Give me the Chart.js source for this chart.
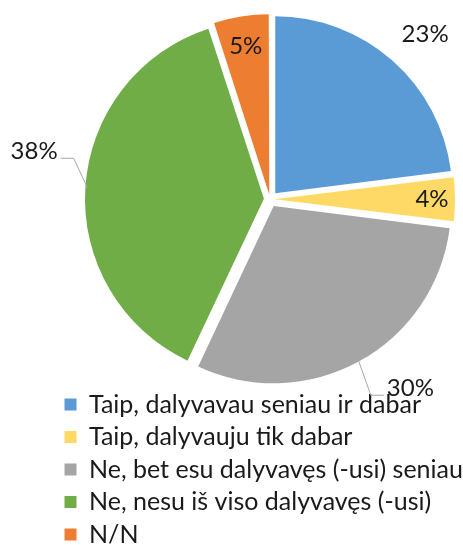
<!DOCTYPE html>
<html lang="lt">
<head>
<meta charset="utf-8">
<title>Dalyvavimas</title>
<script src="https://cdn.jsdelivr.net/npm/chart.js@4.4.0/dist/chart.umd.min.js"></script>
<style>
    html, body { margin: 0; padding: 0; background: #fff; }
    #chartBox { width: 463px; height: 545px; }
</style>
</head>
<body>
<div id="chartBox"><canvas id="participationChart" width="463" height="545"></canvas></div>
<script>
// Answer categories and their shares (%)
const answers = [
    'Taip, dalyvavau seniau ir dabar',
    'Taip, dalyvauju tik dabar',
    'Ne, bet esu dalyvavęs (-usi) seniau',
    'Ne, nesu iš viso dalyvavęs (-usi)',
    'N/N'
];
const shares = [23, 4, 30, 38, 5];
const sliceColors = ['#5B9BD5', '#FFD966', '#A5A5A5', '#70AD47', '#ED7D31'];

// Where each percentage sits: distance as a fraction of the radius,
// a small turn (degrees) off the slice middle, and whether it gets a leader line
const labelPlacement = [
    { dist: 1.28, turn: 1.8, leader: false },
    { dist: 0.915, turn: 0, leader: false },
    { dist: 1.33, turn: -7.8, leader: true },
    { dist: 1.36, turn: 7.9, leader: true },
    { dist: 0.875, turn: 0, leader: false }
];

const FONT_FAMILY = 'Lato, "Open Sans", sans-serif';
const TEXT_COLOR = '#1a1a1a';
const PIE_RADIUS = 177;
const EXPLODE = 8;
const PIE_SHIFT_X = 10;

const total = shares.reduce((a, b) => a + b, 0);

// Chart.js grows narrow slices by part of their offset, so scale the offset
// per slice to keep every slice pushed out the same distance
function sliceOffset(ctx) {
    const share = ctx.dataset.data[ctx.dataIndex] / total;
    const fix = 1 - Math.sin(Math.min(Math.PI, share * 2 * Math.PI));
    return (EXPLODE * 4) / (1 + fix);
}

// The legend hangs further left than the pie, so nudge the pie area right
const pieShift = {
    id: 'pieShift',
    afterLayout(chart) {
        chart.chartArea.left += PIE_SHIFT_X;
        chart.chartArea.right += PIE_SHIFT_X;
    }
};

// Percent labels, with elbow leader lines for the ones outside the pie
const percentLabels = {
    id: 'percentLabels',
    afterDatasetsDraw(chart) {
        const ctx = chart.ctx;
        const meta = chart.getDatasetMeta(0);
        ctx.save();
        ctx.font = '24px ' + FONT_FAMILY;
        ctx.textAlign = 'center';
        ctx.textBaseline = 'middle';
        meta.data.forEach(function (arc, i) {
            const place = labelPlacement[i];
            const mid = (arc.startAngle + arc.endAngle) / 2;
            const angle = mid + place.turn * Math.PI / 180;
            const dist = arc.outerRadius * place.dist;
            const x = arc.x + Math.cos(angle) * dist;
            const y = arc.y + Math.sin(angle) * dist;
            const text = chart.data.datasets[0].data[i] + '%';

            if (place.leader) {
                const w = ctx.measureText(text).width;
                const side = Math.cos(angle) < 0 ? -1 : 1;
                const startR = arc.outerRadius + EXPLODE - 2;
                const sx = arc.x + Math.cos(mid) * startR;
                const sy = arc.y + Math.sin(mid) * startR;
                const hx = x - side * (w / 2 + 3);
                const kx = hx - side * 13;
                const ky = y + 7;
                ctx.beginPath();
                ctx.strokeStyle = '#A6A6A6';
                ctx.lineWidth = 1;
                ctx.moveTo(sx, sy);
                ctx.lineTo(kx, ky);
                ctx.lineTo(hx, ky);
                ctx.stroke();
            }

            ctx.fillStyle = TEXT_COLOR;
            ctx.fillText(text, x, y);
        });
        ctx.restore();
    }
};

const participationCtx = document.getElementById('participationChart');
const participationChart = new Chart(participationCtx.getContext('2d'), {
    type: 'pie',
    data: {
        labels: answers,
        datasets: [{
            data: shares,
            backgroundColor: sliceColors,
            borderWidth: 0,
            radius: PIE_RADIUS,
            offset: sliceOffset
        }]
    },
    options: {
        responsive: false,
        animation: false,
        events: [],
        layout: {
            padding: { left: 57, right: 0, top: 14, bottom: -12 }
        },
        plugins: {
            tooltip: { enabled: false },
            legend: {
                position: 'bottom',
                align: 'start',
                labels: {
                    boxWidth: 12,
                    boxHeight: 12,
                    padding: 7.5,
                    color: TEXT_COLOR,
                    font: { family: FONT_FAMILY, size: 25 }
                }
            }
        }
    },
    plugins: [pieShift, percentLabels]
});
</script>
</body>
</html>
